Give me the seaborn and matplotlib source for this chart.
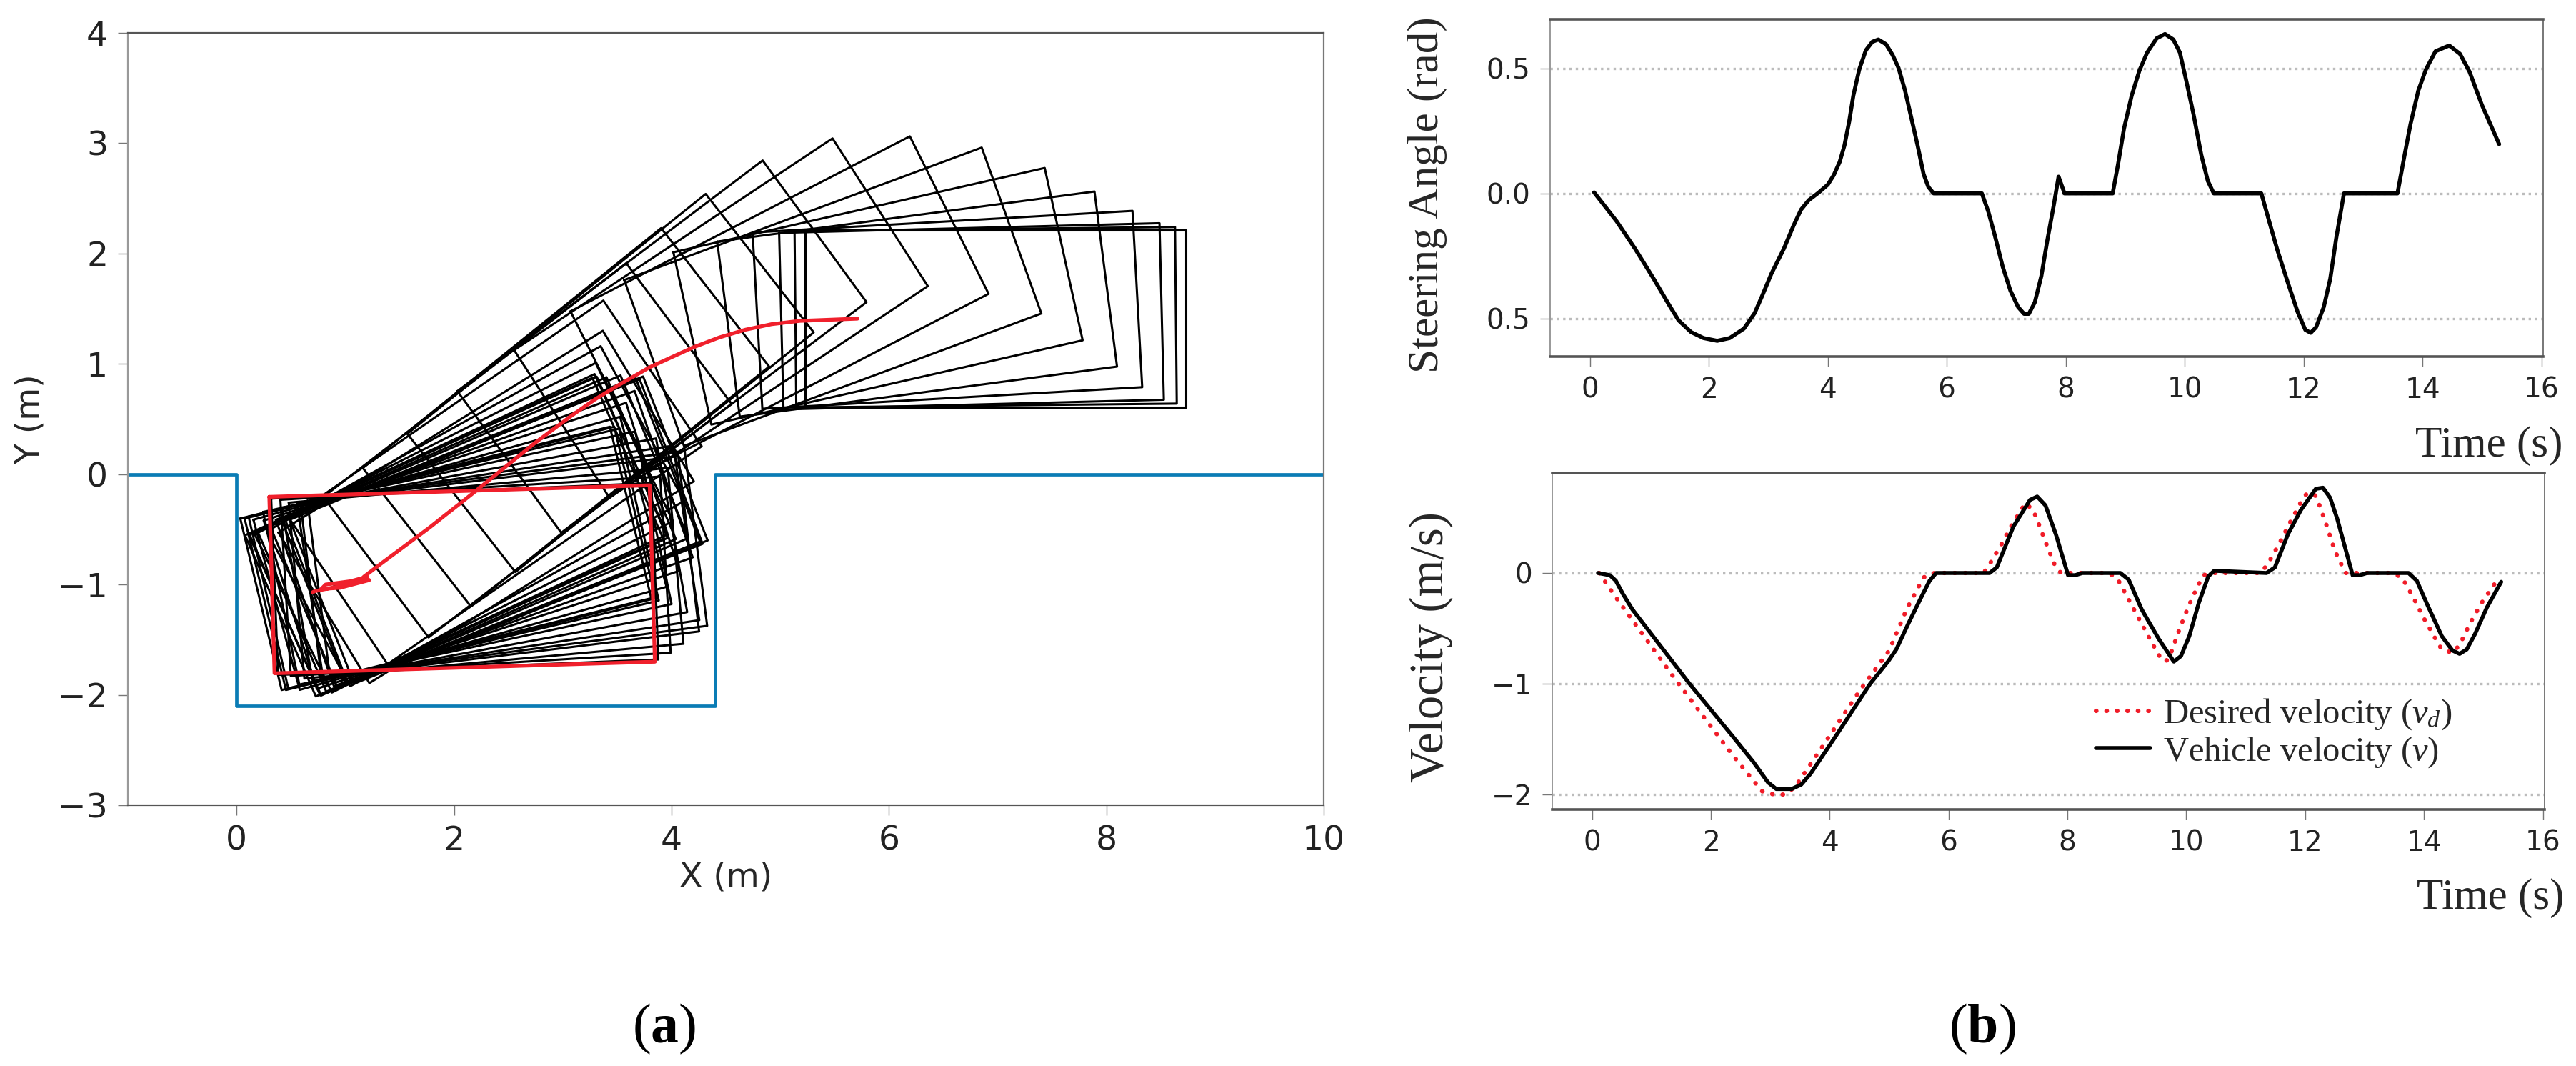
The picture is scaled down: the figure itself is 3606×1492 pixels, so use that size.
import numpy as np
import pandas as pd
import seaborn as sns
import matplotlib
matplotlib.use('Agg')
import matplotlib.pyplot as plt

W, H = 3606, 1492

# Vehicle poses: rear axle x, y and heading.
pose_x = [5.73, 5.64, 5.51, 5.29, 5.02, 4.68, 4.31, 3.88, 3.41, 2.91, 2.46, 2.05, 1.68, 1.35, 1.23,
          1.10, 0.97, 0.90, 0.86,
          0.90, 0.97, 1.08, 1.18, 1.25,
          1.20, 1.10, 0.97, 0.85, 0.75, 0.71,
          0.78, 0.90, 1.05, 1.17, 1.25,
          1.18, 1.05, 0.95, 0.85]
pose_y = [1.41, 1.41, 1.40, 1.42, 1.38, 1.34, 1.18, 0.99, 0.73, 0.41, 0.05, -0.26, -0.54, -0.78, -0.95,
          -0.98, -1.04, -1.07, -1.08,
          -1.07, -1.05, -1.01, -0.98, -0.97,
          -0.97, -1.00, -1.03, -1.05, -1.06, -1.06,
          -1.05, -1.02, -1.00, -0.98, -0.97,
          -0.99, -1.01, -1.00, -1.00]
pose_heading = [0.00, 0.01, 0.025, 0.056, 0.13, 0.22, 0.35, 0.47, 0.58, 0.64, 0.67, 0.67, 0.65, 0.60, 0.55,
                0.50, 0.46, 0.43, 0.42,
                0.42, 0.41, 0.40, 0.38, 0.38,
                0.37, 0.34, 0.31, 0.27, 0.24, 0.24,
                0.23, 0.21, 0.18, 0.15, 0.13,
                0.12, 0.09, 0.06, 0.04]
target_pose = [0.825, -0.99, 0.03]
car_rear, car_front, car_half_width = 0.5, 3.0, 0.8

path_x = [5.71, 5.45, 5.18, 4.92, 4.68, 4.44, 4.20, 4.00, 3.80, 3.50, 3.30, 3.08, 2.89, 2.74, 2.59, 2.39, 2.19,
          2.05, 1.92, 1.78, 1.63, 1.48, 1.33, 1.17, 1.22, 0.95, 0.78, 0.82, 1.05, 1.20, 0.98, 0.72, 0.70]
path_y = [1.41, 1.40, 1.39, 1.36, 1.31, 1.24, 1.15, 1.06, 0.97, 0.80, 0.68, 0.53, 0.39, 0.28, 0.16, 0.00, -0.16,
          -0.27, -0.37, -0.48, -0.59, -0.70, -0.81, -0.93, -0.96, -1.03, -1.04, -1.00, -0.97, -0.93, -1.01,
          -1.06, -1.07]

road_x = [-1, 0, 0, 4.4, 4.4, 10]
road_y = [0, 0, -2.1, -2.1, 0, 0]

steer_t = [0.07, 0.45, 0.76, 1.07, 1.33, 1.49, 1.70, 1.91, 2.14, 2.35, 2.59, 2.77, 2.90, 3.05, 3.26, 3.42, 3.55,
           3.68, 3.84, 4.00, 4.10, 4.20, 4.28, 4.36, 4.43, 4.53, 4.64, 4.75, 4.85, 4.98, 5.09, 5.19, 5.30, 5.40,
           5.51, 5.61, 5.69, 5.78, 6.59, 6.70, 6.81, 6.94, 7.07, 7.20, 7.30, 7.38, 7.48, 7.59, 7.69, 7.80, 7.88,
           7.98, 8.79, 8.88, 8.98, 9.11, 9.24, 9.37, 9.53, 9.67, 9.81, 9.92, 10.02, 10.15, 10.28, 10.39, 10.49,
           11.29, 11.40, 11.56, 11.74, 11.90, 12.03, 12.12, 12.21, 12.34, 12.45, 12.55, 12.68, 13.58, 13.70,
           13.80, 13.93, 14.06, 14.22, 14.45, 14.63, 14.79, 15.00, 15.29]
steer_angle = [0.004, -0.112, -0.222, -0.341, -0.446, -0.508, -0.555, -0.579, -0.59, -0.579, -0.541, -0.479,
               -0.408, -0.322, -0.222, -0.131, -0.065, -0.027, 0.002, 0.035, 0.073, 0.126, 0.192, 0.288, 0.392,
               0.497, 0.573, 0.607, 0.616, 0.597, 0.554, 0.502, 0.411, 0.307, 0.192, 0.078, 0.026, 0, 0, -0.074,
               -0.17, -0.293, -0.389, -0.455, -0.482, -0.482, -0.436, -0.331, -0.189, -0.046, 0.067, 0.0, 0, 0.116,
               0.259, 0.392, 0.492, 0.564, 0.621, 0.638, 0.616, 0.564, 0.459, 0.316, 0.154, 0.05, 0, 0, -0.093,
               -0.227, -0.36, -0.474, -0.546, -0.558, -0.536, -0.455, -0.341, -0.179, 0, 0, 0.154, 0.278, 0.411,
               0.497, 0.569, 0.592, 0.559, 0.488, 0.354, 0.197]

vel_t = [0.10, 0.30, 0.40, 0.52, 0.68, 1.64, 2.36, 2.72, 2.96, 3.10, 3.36, 3.52, 3.68, 4.08, 4.68, 4.98, 5.12, 5.32,
         5.52, 5.68, 5.79, 6.69, 6.81, 7.09, 7.37, 7.49, 7.63, 7.81, 8.01, 8.13, 8.25, 8.89, 9.03, 9.25, 9.53, 9.79,
         9.91, 10.05, 10.21, 10.37, 10.47, 11.35, 11.49, 11.71, 11.93, 12.18, 12.30, 12.42, 12.54, 12.80, 12.92,
         13.04, 13.74, 13.88, 14.06, 14.30, 14.48, 14.60, 14.72, 14.86, 15.06, 15.30]
vel_actual = [0.0, -0.02, -0.07, -0.19, -0.33, -1.0, -1.47, -1.71, -1.89, -1.95, -1.95, -1.91, -1.81, -1.49, -1.0,
              -0.8, -0.69, -0.46, -0.24, -0.07, 0, 0, 0.05, 0.42, 0.66, 0.69, 0.61, 0.34, -0.02, -0.02, 0, 0, -0.06,
              -0.33, -0.59, -0.8, -0.75, -0.57, -0.27, -0.03, 0.02, 0, 0.05, 0.35, 0.57, 0.76, 0.77, 0.68, 0.49,
              -0.02, -0.02, 0, 0, -0.07, -0.29, -0.57, -0.7, -0.73, -0.69, -0.55, -0.31, -0.08]
desired_t = [0.12, 0.36, 0.59, 1.40, 2.36, 2.86, 3.06, 3.24, 3.42, 3.86, 4.52, 5.00, 5.30, 5.58, 5.76, 6.59, 6.69,
             6.89, 7.07, 7.29, 7.42, 7.49, 7.63, 7.78, 7.89, 8.69, 8.84, 9.03, 9.21, 9.40, 9.59, 9.67, 9.75, 9.89,
             10.03, 10.19, 10.29, 10.45, 11.25, 11.37, 11.57, 11.75, 11.93, 12.03, 12.17, 12.25, 12.38, 12.50, 12.68,
             13.46, 13.63, 13.82, 14.00, 14.20, 14.30, 14.48, 14.60, 14.78, 14.97, 15.20]
desired_v = [0, -0.19, -0.36, -0.96, -1.64, -1.97, -2.0, -2.0, -1.93, -1.58, -1.05, -0.70, -0.32, -0.04, 0, 0, 0.08,
             0.26, 0.44, 0.63, 0.57, 0.48, 0.28, 0.08, 0, 0, -0.05, -0.24, -0.42, -0.61, -0.79, -0.79, -0.71, -0.5,
             -0.31, -0.12, -0.02, 0, 0, 0.08, 0.27, 0.46, 0.64, 0.72, 0.70, 0.6, 0.4, 0.2, 0, 0, -0.04, -0.22, -0.41,
             -0.6, -0.69, -0.72, -0.65, -0.45, -0.27, -0.09]


def make_axes(fig, left, top, right, bottom):
    return fig.add_axes([left / W, 1 - bottom / H, (right - left) / W, (bottom - top) / H])


def car_outline(x, y, heading):
    # Closed footprint of the car at one pose.
    along = np.array([-car_rear, car_front, car_front, -car_rear, -car_rear])
    across = np.array([car_half_width, car_half_width, -car_half_width, -car_half_width, car_half_width])
    return (x + along * np.cos(heading) - across * np.sin(heading),
            y + along * np.sin(heading) + across * np.cos(heading))


def footprint_table():
    frames = []
    for i in range(len(pose_x)):
        xs, ys = car_outline(pose_x[i], pose_y[i], pose_heading[i])
        frames.append(pd.DataFrame({'x': xs, 'y': ys, 'frame': i}))
    return pd.concat(frames, ignore_index=True)


def style_axes(ax, outer, side, grid=False):
    for name in ax.spines:
        ax.spines[name].set_visible(True)
    ax.spines['top'].set(color='#555555', linewidth=outer)
    ax.spines['bottom'].set(color='#555555', linewidth=outer)
    ax.spines['left'].set(color='#999999', linewidth=side)
    ax.spines['right'].set(color='#777777', linewidth=side)
    ax.tick_params(colors='#222222', length=5, width=0.5, color='#777777', pad=5)
    if grid:
        ax.yaxis.grid(True, linestyle=':', color='#bcbcbc', linewidth=1.2)
        ax.set_axisbelow(True)


def draw_parking(ax):
    sns.lineplot(data=footprint_table(), x='x', y='y', units='frame', estimator=None, sort=False,
                 color='black', linewidth=1.1, ax=ax)
    sns.lineplot(x=road_x, y=road_y, sort=False, estimator=None, color='#0a7cb5', linewidth=1.7, ax=ax)
    xs, ys = car_outline(*target_pose)
    sns.lineplot(x=xs, y=ys, sort=False, estimator=None, color='#f0202c', linewidth=1.9, ax=ax)
    sns.lineplot(x=path_x, y=path_y, sort=False, estimator=None, color='#f0202c', linewidth=1.9, ax=ax)
    ax.set_xlim(-1, 10)
    ax.set_ylim(-3, 4)
    ax.set_xticks([0, 2, 4, 6, 8, 10])
    ax.set_yticks([-3, -2, -1, 0, 1, 2, 3, 4])
    ax.set_xticklabels(['0', '2', '4', '6', '8', '10'], fontsize=17)
    ax.set_yticklabels(['\u22123', '\u22122', '\u22121', '0', '1', '2', '3', '4'], fontsize=17)
    ax.set_xlabel('X (m)', fontsize=17, labelpad=2)
    ax.set_ylabel('Y (m)', fontsize=17, labelpad=6)
    style_axes(ax, 0.8, 0.8)


def draw_steering(ax):
    sns.lineplot(x=steer_t, y=steer_angle, sort=False, estimator=None, color='black', linewidth=2.0,
                 solid_joinstyle='round', ax=ax)
    ax.set_xlim(-0.67, 16.03)
    ax.set_ylim(-0.653, 0.697)
    ax.set_yticks([-0.5, 0, 0.5])
    ax.set_yticklabels(['0.5', '0.0', '0.5'])
    finish_time_axes(ax, 'Steering Angle (rad)', 22, -0.1036, 0.48)


def draw_velocity(ax):
    sns.lineplot(x=desired_t, y=desired_v, sort=False, estimator=None, color='#f01c28', linewidth=2.2,
                 linestyle=(0, (0.1, 2.3)), dash_capstyle='round', label='Desired velocity ($v_d$)', ax=ax)
    sns.lineplot(x=vel_t, y=vel_actual, sort=False, estimator=None, color='black', linewidth=2.0,
                 solid_joinstyle='round', label='Vehicle velocity ($v$)', ax=ax)
    ax.set_xlim(-0.67, 16.03)
    ax.set_ylim(-2.135, 0.903)
    ax.set_yticks([-2, -1, 0])
    ax.set_yticklabels(['\u22122', '\u22121', '0'])
    ax.legend(loc='center left', bbox_to_anchor=(0.548, 0.227), frameon=False, handlelength=1.57,
              handletextpad=0.37, labelspacing=0.1, borderaxespad=0, borderpad=0,
              prop={'family': 'Liberation Serif', 'size': 17.5})
    finish_time_axes(ax, 'Velocity (m/s)', 24, -0.100, 0.482)


def finish_time_axes(ax, ylabel, label_size, label_x, label_y):
    ax.set_xticks(range(0, 17, 2))
    ax.tick_params(labelsize=14)
    ax.set_xlabel('Time (s)', family='Liberation Serif', fontsize=22)
    ax.xaxis.set_label_coords(1.02, -0.205, transform=ax.transAxes)
    ax.xaxis.label.set_ha('right')
    ax.set_ylabel(ylabel, family='Liberation Serif', fontsize=label_size)
    ax.yaxis.set_label_coords(label_x, label_y)
    style_axes(ax, 1.3, 0.7, grid=True)


def main():
    sns.set_theme(style='ticks')
    plt.rcParams['font.family'] = ['DejaVu Sans']
    plt.rcParams['mathtext.fontset'] = 'custom'
    plt.rcParams['mathtext.rm'] = 'Liberation Serif'
    plt.rcParams['mathtext.it'] = 'Liberation Serif:italic'
    plt.rcParams['mathtext.bf'] = 'Liberation Serif:bold'

    fig = plt.figure(figsize=(W / 200, H / 200), dpi=200, facecolor='white')
    draw_parking(make_axes(fig, 179, 46, 1853, 1127))
    draw_steering(make_axes(fig, 2170, 27, 3560, 499))
    draw_velocity(make_axes(fig, 2173, 662, 3562, 1133))

    fig.text(930 / W, 1 - 1440 / H, r'($\mathbf{a}$)', family='Liberation Serif', fontsize=28,
             ha='center', va='center', color='black')
    fig.text(2775 / W, 1 - 1440 / H, r'($\mathbf{b}$)', family='Liberation Serif', fontsize=28,
             ha='center', va='center', color='black')
    fig.savefig('out.png', dpi=200, facecolor='white')


if __name__ == '__main__':
    main()
